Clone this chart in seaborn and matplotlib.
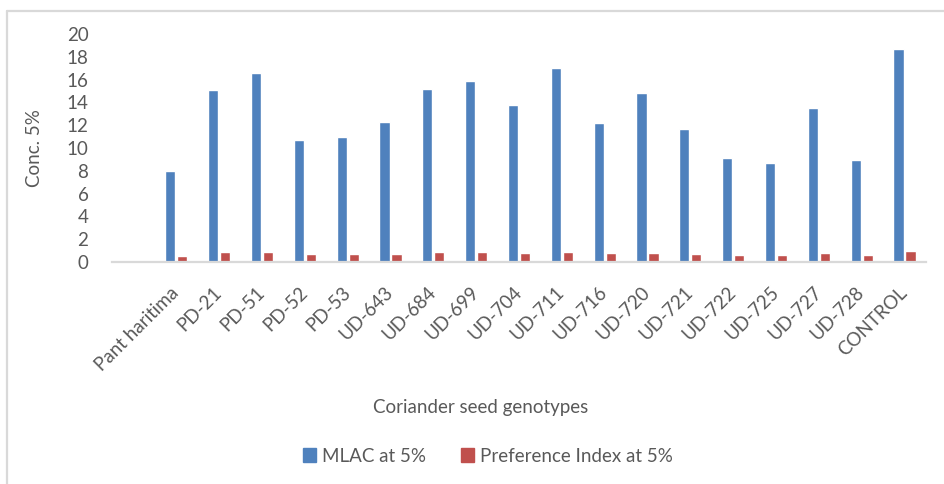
import matplotlib
matplotlib.use("Agg")
import matplotlib.pyplot as plt
import matplotlib.patches as mpatches
import matplotlib.transforms as mtransforms
import seaborn as sns
import pandas as pd

genotypes = ["Pant haritima", "PD-21", "PD-51", "PD-52", "PD-53", "UD-643", "UD-684",
             "UD-699", "UD-704", "UD-711", "UD-716", "UD-720", "UD-721", "UD-722",
             "UD-725", "UD-727", "UD-728", "CONTROL"]
mlac = [7.95, 15.05, 16.6, 10.7, 10.95, 12.3, 15.2, 15.85, 13.8, 17.05, 12.2, 14.85,
        11.7, 9.1, 8.65, 13.5, 8.95, 18.7]
pref_index = [0.55, 0.85, 0.87, 0.68, 0.68, 0.74, 0.87, 0.87, 0.78, 0.9, 0.75, 0.8,
              0.7, 0.59, 0.59, 0.78, 0.59, 0.96]
series_names = ["MLAC at 5%", "Preference Index at 5%"]
yticks = [0, 2, 4, 6, 8, 10, 12, 14, 16, 18, 20]

df = pd.DataFrame({
    "Genotype": genotypes * 2,
    "Value": mlac + pref_index,
    "Series": [series_names[0]] * len(genotypes) + [series_names[1]] * len(genotypes),
})

sns.set_theme(style="white")
plt.rcParams["font.family"] = ["Lato", "DejaVu Sans"]
text_color = "#595959"
blue = "#4f81bd"
red = "#c0504d"
fs = 13.5

W, H = 944, 484
fig = plt.figure(figsize=(W / 100, H / 100), dpi=100)
ax = fig.add_axes([112 / W, 1 - 262 / H, (926 - 112) / W, (262 - 34) / H])

sns.barplot(data=df, x="Genotype", y="Value", hue="Series", order=genotypes,
            hue_order=series_names, palette=[blue, red], width=0.56, gap=0.15,
            ax=ax, legend=True, saturation=1)

ax.set_xlim(-1.5, len(genotypes) - 0.5)
ax.set_ylim(0, 20)
ax.set_yticks(yticks)
ax.set_yticklabels([str(v) for v in yticks])
for s in ["top", "right", "left"]:
    ax.spines[s].set_visible(False)
ax.spines["bottom"].set_color("#d9d9d9")
ax.spines["bottom"].set_linewidth(1.6)
ax.tick_params(axis="y", length=0, pad=17, labelsize=fs, labelcolor=text_color)
ax.tick_params(axis="x", length=0, pad=20, labelsize=fs, labelcolor=text_color)
ax.set_xlabel("")
ax.set_ylabel("")
offset = mtransforms.ScaledTranslation(0, 0, fig.dpi_scale_trans)
for lab in ax.get_xticklabels():
    lab.set_rotation(45)
    lab.set_ha("right")
    lab.set_va("center")
    lab.set_rotation_mode("anchor")
    lab.set_transform(lab.get_transform() + offset)

leg = ax.get_legend()
if leg is not None:
    leg.remove()
handles = [mpatches.Patch(color=blue, label=series_names[0]),
           mpatches.Patch(color=red, label=series_names[1])]
fig.legend(handles=handles, loc="center", bbox_to_anchor=(488 / W, 1 - 456 / H),
           ncol=2, frameon=False, fontsize=fs, handlelength=0.7, handleheight=0.7,
           handletextpad=0.3, columnspacing=1.9, labelcolor=text_color)

fig.text(34 / W, 1 - 148 / H, "Conc. 5%", rotation=90, ha="center", va="center",
         fontsize=fs, color=text_color)
fig.text(481 / W, 1 - 407 / H, "Coriander seed genotypes", ha="center", va="center",
         fontsize=fs, color=text_color)

# chart frame (left and top edges visible)
fig.add_artist(plt.Line2D([7 / W, 7 / W], [0, 1 - 11 / H], transform=fig.transFigure,
                          color="#d9d9d9", linewidth=1.6))
fig.add_artist(plt.Line2D([7 / W, 1], [1 - 11 / H, 1 - 11 / H], transform=fig.transFigure,
                          color="#d9d9d9", linewidth=1.6))

fig.savefig("out.png", dpi=100)
